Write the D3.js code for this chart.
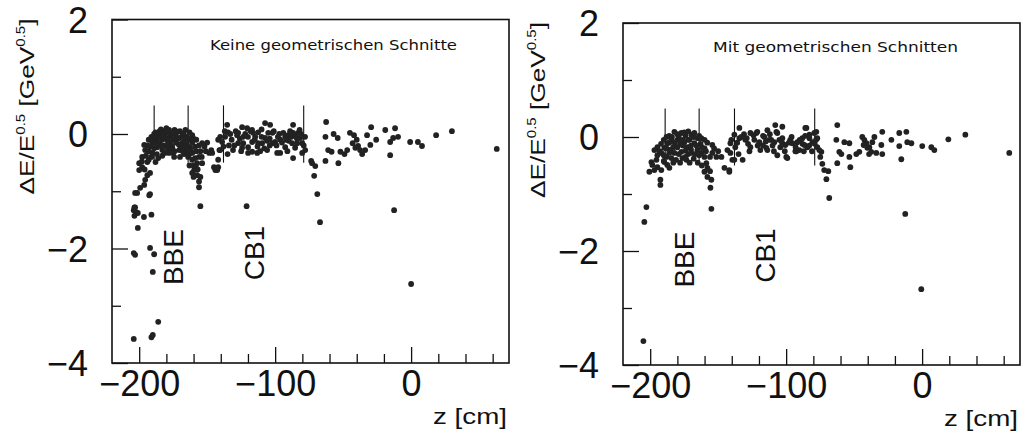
<!DOCTYPE html>
<html>
<head>
<meta charset="utf-8">
<script src="https://cdn.jsdelivr.net/npm/d3@7"></script>
<style>
  body { margin: 0; background: #fff; }
  text { font-family: "Liberation Sans", Arial, sans-serif; fill: #111; }
</style>
</head>
<body>
<script>
// axis ticks
var zTicks = [-200, -100, 0];
var zMinorTicks = [-180, -160, -140, -120, -80, -60, -40, -20, 20, 40, 60];
var eTicks = [2, 0, -2, -4];
var eMinorTicks = [1, -1, -3];

// detector boundaries (vertical marks) and labels
var boundaryZ = [-189, -164, -138, -79];
var detLabels = ["BBE", "CB1"];
var detLabelZ = [-168, -108];
var detLabelE = [-2.15, -2.08];

var panelTitles = ["Keine geometrischen Schnitte", "Mit geometrischen Schnitten"];

// [z in cm, dE/sqrt(E)]
var pointsNoCut = [
  [-201.5,-1.03],[-192,-1.05],[-155,-1.26],[-121,-1.26],
  [-203.5,-1.28],[-204,-1.33],[-202.5,-1.36],[-203.5,-1.43],[-201,-1.38],[-196.5,-1.45],[-191,-1.41],[-201,-1.64],
  [-203,-2.11],[-204,-2.08],[-192,-1.99],[-189,-2.10],[-190,-2.41],[-186,-3.28],[-204,-3.58],[-191,-3.55],[-190,-3.51],
  [-67,-1.54],[-12.5,-1.33],[0,-2.62],
  [-62.5,0.21],[-63,-0.05],[-57,0],[-54,-0.07],[-61,-0.28],[-58.5,-0.31],[-52,-0.31],[-49,-0.35],[-47,-0.28],
  [-53.5,-0.51],[-63,-0.47],[-73.5,-0.47],[-70.5,-0.56],[-71.3,-0.73],[-69,-1.05],
  [-45,0.02],[-42,-0.02],[-40,-0.10],[-39,-0.21],[-37.5,-0.28],[-36,-0.35],[-43,-0.16],[-41,-0.24],
  [-29.4,0.12],[-32.4,-0.02],[-33.8,-0.28],[-30,-0.19],[-25.7,-0.10],[-19,0.07],[-11.8,0.10],[-15.4,-0.14],
  [-13.2,-0.07],[-9.6,-0.05],[-15.4,-0.37],[-0.7,-0.14],[5,-0.14],[8,-0.21],[18.4,-0.02],[30,0.05],[63,-0.26],
  [-183,0.05],[-178,0.07],[-174,0.07],[-170,0.05],[-166,0.07],[-163,0.03],
  [-196.3,-0.19],[-195.6,-0.28],[-197.8,-0.40],[-200,-0.51],[-200,-0.63],[-197.8,-0.58],[-194,-0.49],[-188,-0.49],
  [-192,-0.68],[-195.6,-0.80],[-196.3,-0.89],[-199.3,-0.94],[-203,-1.03],[-192.6,-1.07],[-203,-1.28],
  [-190.4,-0.33],[-190.4,-0.16],[-186.8,-0.23],[-183,-0.28],[-178,-0.33],[-174.3,-0.40],[-175.7,-0.23],[-170.6,-0.28],
  [-168.4,-0.16],[-167,-0.02],[-163,-0.23],[-161,-0.33],[-161,-0.45],[-158.8,-0.42],[-159.6,-0.63],[-161,-0.68],
  [-157.4,-0.72],[-155,-0.75],[-156,-0.93],[-153.7,-0.16],[-157.4,-0.51],[-153.7,-0.51],[-148.5,-0.33],[-145,-0.58],
  [-144,-0.63],[-141,-0.28],[-140.4,-0.05],[-146.3,-0.33],
  [-193,-0.10],[-191,-0.05],[-189,0.0],[-187,-0.08],[-185,-0.02],[-185,-0.15],[-183,-0.10],[-181,-0.03],[-181,-0.2],
  [-179,-0.12],[-177,-0.05],[-177,-0.18],[-175,-0.1],[-173,-0.02],[-173,-0.15],[-171,-0.08],[-169,-0.05],[-169,-0.22],
  [-167,-0.12],[-165,-0.05],[-165,-0.18],[-163,-0.1],[-161,-0.15],[-161,-0.02],[-159,-0.22],[-158,-0.1],[-171,-0.18],
  [-175,-0.33],[-179,-0.25],[-183,-0.38],[-187,-0.35],[-189,-0.25],[-193,-0.3],[-195,-0.38],[-193,-0.45],[-198,-0.48],
  [-196,-0.62],[-194,-0.72],[-170,-0.4],[-166,-0.3],[-164,-0.4],[-163,-0.55],[-160,-0.55],[-158,-0.6],[-156,-0.83],
  [-167,-0.35],[-185,0.05],[-180,0.1],[-176,0.0],[-155,-0.30],[-151,-0.3],[-147,-0.28],
  [-194,-0.2],[-192,-0.22],[-190,-0.1],[-188,-0.15],[-186,-0.05],[-184,-0.2],[-182,0.0],[-180,-0.08],[-178,-0.15],
  [-176,-0.22],[-174,-0.3],[-172,-0.08],[-170,-0.2],[-168,0.0],[-166,-0.22],[-164,-0.08],[-162,-0.28],[-160,-0.08],
  [-158,-0.3],[-156,-0.4],[-188,0.03],[-184,0.08],[-179,0.03],[-172,0.04],[-168,-0.3],[-176,-0.28],[-186,-0.42],
  [-191,-0.4],[-181,-0.33],[-163,-0.35],[-156,-0.2],[-157,-0.62],[-160,-0.75],[-152,-0.22],[-150,-0.15],[-154,-0.4],
  [-135.3,0.16],[-134.6,0.03],[-136.8,-0.05],[-139,-0.14],[-141.9,-0.10],[-140.4,-0.28],[-141.9,-0.45],[-142.6,-0.63],[-141.9,-0.58],
  [-124.3,0.12],[-120.6,0.10],[-127.2,0.02],[-123.5,-0.05],[-127.2,-0.16],[-123.5,-0.16],[-124.3,-0.24],[-119.9,-0.23],
  [-116.9,-0.14],[-116.2,0.02],[-114.7,-0.05],[-112.5,0.03],[-112.5,-0.16],[-109.6,-0.16],[-107.4,-0.07],[-107.4,0.19],
  [-103.7,0.16],[-105.1,0.02],[-105.9,-0.28],[-102.2,-0.16],[-100,-0.14],[-96.3,-0.10],[-92.6,-0.05],[-90.4,-0.02],
  [-86.8,0.16],[-86.8,0.02],[-83.1,0.02],[-81.6,-0.07],[-80.1,-0.16],[-83.8,-0.16],[-87.5,-0.16],[-92.6,-0.23],
  [-98.5,-0.33],[-96.3,-0.33],[-85.3,-0.24],[-86.8,-0.42],[-80.1,-0.33],[-77.9,-0.28],[-72.8,-0.51],[-119.9,-0.33],
  [-113.2,-0.33],[-116.9,-0.31],
  [-132,-0.1],[-130,-0.2],[-129,0.05],[-120,-0.05],[-110,-0.05],[-104,-0.08],[-98,-0.05],[-95,-0.15],[-90,-0.12],
  [-88,-0.05],[-84,-0.08],[-101,0.05],[-94,0.02],[-110,0.08],[-117,0.07],[-131,-0.28],[-135,-0.35],[-138,-0.22],
  [-126,-0.08],[-113,-0.22],[-108,-0.25],[-82,0.07],[-78,-0.05],
  [-133,0.0],[-128,-0.02],[-122,0.0],[-118,0.05],[-115,-0.1],[-106,-0.12],[-102,0.02],[-99,-0.2],[-97,0.0],
  [-92,-0.1],[-89,0.05],[-85,-0.03],[-81,0.0],[-79,-0.2],[-125,-0.3],[-111,-0.3],[-134,-0.2],[-137,0.05],
  [-104,-0.2],[-91,-0.3]
];

var pointsCut = [
  [-202.8,-1.23],[-192.5,-0.75],[-192.5,-0.84],[-155.7,-0.89],[-155,-1.26],[-200.6,-0.61],[-204.3,-1.49],[-205,-3.58],
  [-12.4,-1.35],[-0.6,-2.67],
  [-68.3,-1.07],[-73.4,-0.47],[-69,-0.60],[-70.4,-0.74],[-52.8,-0.53],[-62.4,-0.46],
  [-62.4,0.21],[-63.1,-0.05],[-57.2,-0.09],[-53.5,-0.11],[-60.9,-0.26],[-59.4,-0.30],[-53.5,-0.35],[-48.4,-0.30],
  [-46.2,-0.26],[-44,0],[-41,-0.11],[-38.8,-0.18],[-36.6,-0.09],[-35.1,0],[-33.7,-0.28],[-30,-0.14],[-29.3,0.09],
  [-29.3,-0.30],[-22.6,-0.05],[-16.8,0.07],[-11.6,0.09],[-16.8,-0.16],[-10.9,-0.09],[-7.9,-0.11],[-15.3,-0.39],
  [0.1,-0.16],[6.8,-0.18],[9,-0.23],[19.3,-0.04],[31.8,0.04],[64.1,-0.28],
  [-42.5,-0.05],[-40.3,-0.19],[-37.4,-0.26],[-43,-0.14],[-39,-0.3],
  [-99.9,-0.35],[-92.5,-0.25],[-85.1,0.16],[-86.6,-0.14],[-82.9,-0.02],[-77.8,0.09],[-77.1,-0.18],[-74.1,-0.26],
  [-102.8,0.18],[-107.2,0.09],[-112.4,-0.05],[-119.7,-0.11],[-121.9,0.07],[-114.6,-0.19],
  [-182.2,0.09],[-177.1,0.07],[-169.7,0.04],[-167.5,0.07],[-162.4,-0.02],
  [-187.4,-0.11],[-184.4,-0.05],[-189.6,-0.19],[-194.7,-0.18],[-196.9,-0.23],[-194.7,-0.32],[-191.8,-0.28],[-195.4,-0.40],
  [-199.1,-0.44],[-198.4,-0.49],[-196.9,-0.58],[-194.7,-0.53],[-189.6,-0.44],[-187.4,-0.49],[-185.9,-0.54],
  [-180,-0.18],[-177.1,-0.26],[-182.2,-0.28],[-176.3,-0.37],[-173.4,-0.40],[-169.7,-0.28],[-167.5,-0.11],[-165.3,-0.23],
  [-162.4,-0.28],[-160.1,-0.35],[-158.7,-0.46],[-157.9,-0.54],[-160.1,-0.61],[-157.9,-0.70],[-155,-0.75],
  [-154.3,-0.14],[-154.3,-0.28],[-151.3,-0.35],[-147.6,-0.35],[-145.4,-0.54],[-141.8,-0.61],[-143.2,-0.23],[-140.3,-0.05],
  [-139.6,-0.40],[-174.9,-0.09],[-172.6,-0.18],[-180,-0.05],[-184.4,-0.37],[-191.8,-0.58],
  [-186,0.02],[-179,0.0],[-174,0.02],[-171,-0.05],[-165,-0.02],[-163,-0.12],[-176,-0.15],[-170,-0.15],[-183,-0.18],
  [-186,-0.28],[-179,-0.3],[-172,-0.3],[-168,-0.38],[-165,-0.45],[-190,-0.05],[-192,-0.12],[-185,-0.22],[-160,-0.2],
  [-158,-0.1],[-167,-0.3],[-174,-0.24],[-181,-0.4],[-188,-0.35],[-162,-0.5],
  [-193,-0.25],[-190,-0.32],[-188,-0.2],[-186,-0.1],[-184,0.0],[-182,-0.1],[-180,0.05],[-178,-0.12],[-176,-0.05],
  [-174,-0.35],[-172,-0.05],[-170,-0.22],[-168,0.0],[-166,-0.15],[-164,-0.32],[-162,-0.18],[-160,-0.05],[-159,-0.25],
  [-156,-0.35],[-178,-0.45],[-183,-0.45],[-171,-0.45],[-188,0.0],[-175,0.08],[-172,0.1],[-164,0.02],[-190,-0.42],
  [-153,-0.2],[-150,-0.25],[-156,-0.6],
  [-134.4,0.16],[-138.1,0.04],[-134.4,-0.02],[-141,-0.11],[-137.4,-0.18],[-141,-0.28],[-138.1,-0.40],[-141.8,-0.58],
  [-126.3,0.07],[-121.2,0.09],[-123.4,-0.05],[-119.7,-0.09],[-126.3,-0.18],[-116,0],[-113.8,0.12],[-108,0.21],
  [-106.5,0.07],[-108.7,-0.09],[-102.8,-0.02],[-104.3,-0.18],[-106.5,-0.32],[-99.1,-0.37],[-100.6,-0.14],[-95.4,-0.11],
  [-91.8,-0.09],[-88.1,-0.02],[-85.9,0.16],[-82.9,0.04],[-79.3,0.07],[-80.7,-0.09],[-84.4,-0.18],[-90.3,-0.23],
  [-75.6,-0.23],[-74.9,-0.35],[-72,-0.58],[-119,-0.23],[-113.8,-0.23],[-93.2,-0.25],[-77.1,-0.02],
  [-130,-0.05],[-128,-0.12],[-111,-0.05],[-97,-0.05],[-93,-0.18],[-88,-0.12],[-131,0.05],[-117,-0.15],[-110,-0.15],
  [-103,-0.1],[-83,-0.15],[-79,-0.12],[-135,-0.3],
  [-133,0.0],[-129,-0.02],[-124,0.03],[-121,-0.15],[-117,0.02],[-115,-0.08],[-112,0.05],[-105,-0.05],[-101,-0.25],
  [-98,-0.1],[-96,0.0],[-90,-0.05],[-86,0.02],[-81,-0.25],[-78,-0.05],[-127,-0.25],[-109,-0.25],[-136,-0.1],
  [-132,-0.4],[-87,-0.25]
];

var width = 1022, height = 436;
var svg = d3.select("body").append("svg")
  .attr("width", width)
  .attr("height", height);

// panel boxes in pixels
var panels = [
  {x0: 112, x1: 509, y0: 19.5, y1: 363, title: panelTitles[0], titleDx: 98, titleDy: 30, titleLen: 247, pts: pointsNoCut},
  {x0: 623, x1: 1020, y0: 23, y1: 365, title: panelTitles[1], titleDx: 90, titleDy: 29, titleLen: 245, pts: pointsCut}
];

panels.forEach(drawPanel);

function drawPanel(p) {
  var x = d3.scaleLinear().domain([-220, 72]).range([p.x0, p.x1]);
  var y = d3.scaleLinear().domain([-4, 2]).range([p.y1, p.y0]);
  var g = svg.append("g");
  var intFmt = d3.format("d");

  // bottom axis (ticks pointing inwards)
  var xa = g.append("g")
    .attr("transform", "translate(0," + p.y1 + ")")
    .call(d3.axisBottom(x).tickValues(zTicks).tickFormat(intFmt).tickSizeInner(-16).tickSizeOuter(0).tickPadding(7));
  xa.selectAll("text").style("font-size", "36px").attr("fill", "#111");
  g.append("g")
    .attr("transform", "translate(0," + p.y1 + ")")
    .call(d3.axisBottom(x).tickValues(zMinorTicks).tickSizeInner(-9).tickSizeOuter(0).tickFormat(""));

  // left axis
  var ya = g.append("g")
    .attr("transform", "translate(" + p.x0 + ",0)")
    .call(d3.axisLeft(y).tickValues(eTicks).tickFormat(intFmt).tickSizeInner(-16).tickSizeOuter(0).tickPadding(24));
  ya.selectAll("text").style("font-size", "36px").attr("dy", "0.36em").attr("fill", "#111");
  g.append("g")
    .attr("transform", "translate(" + p.x0 + ",0)")
    .call(d3.axisLeft(y).tickValues(eMinorTicks).tickSizeInner(-9).tickSizeOuter(0).tickFormat(""));

  g.selectAll(".domain").remove();
  g.selectAll(".tick line").attr("stroke", "#111").attr("stroke-width", 1.3);

  // frame
  g.append("rect")
    .attr("x", p.x0).attr("y", p.y0)
    .attr("width", p.x1 - p.x0).attr("height", p.y1 - p.y0)
    .attr("fill", "none").attr("stroke", "#111").attr("stroke-width", 1.6);

  // detector boundaries
  g.selectAll(".bound")
    .data(boundaryZ)
    .enter().append("line")
    .attr("class", "bound")
    .attr("x1", function(d) { return x(d); })
    .attr("x2", function(d) { return x(d); })
    .attr("y1", y(0.5))
    .attr("y2", y(-0.5))
    .attr("stroke", "#111").attr("stroke-width", 1.1);

  // data points
  g.selectAll(".pt")
    .data(p.pts)
    .enter().append("circle")
    .attr("class", "pt")
    .attr("cx", function(d) { return x(d[0]); })
    .attr("cy", function(d) { return y(d[1]); })
    .attr("r", 2.9)
    .attr("fill", "#222");

  // BBE / CB1 labels
  detLabels.forEach(function(lbl, i) {
    g.append("text")
      .attr("transform", "translate(" + x(detLabelZ[i]) + "," + y(detLabelE[i]) + ") rotate(-90)")
      .attr("text-anchor", "middle")
      .style("font-size", "28px")
      .text(lbl);
  });

  // title inside the frame
  g.append("text")
    .attr("x", p.x0 + p.titleDx)
    .attr("y", p.y0 + p.titleDy)
    .attr("textLength", p.titleLen)
    .attr("lengthAdjust", "spacingAndGlyphs")
    .style("font-size", "14px")
    .style("font-family", "'DejaVu Sans', sans-serif")
    .text(p.title);

  // x axis title
  g.append("text")
    .attr("x", p.x1 - 2)
    .attr("y", p.y1 + 61)
    .attr("text-anchor", "end")
    .attr("textLength", 74)
    .attr("lengthAdjust", "spacingAndGlyphs")
    .style("font-size", "22px")
    .text("z [cm]");

  // y axis title
  var yt = g.append("text")
    .attr("transform", "translate(" + (p.x0 - 78) + "," + (p.y0 + 87) + ") rotate(-90) scale(1.25,1)")
    .attr("text-anchor", "middle")
    .style("font-size", "21px");
  yt.append("tspan").text("ΔE/E");
  yt.append("tspan").attr("dy", -9).style("font-size", "12px").text("0.5");
  yt.append("tspan").attr("dy", 9).text(" [GeV");
  yt.append("tspan").attr("dy", -9).style("font-size", "12px").text("0.5");
  yt.append("tspan").attr("dy", 9).text("]");
}
</script>
</body>
</html>
